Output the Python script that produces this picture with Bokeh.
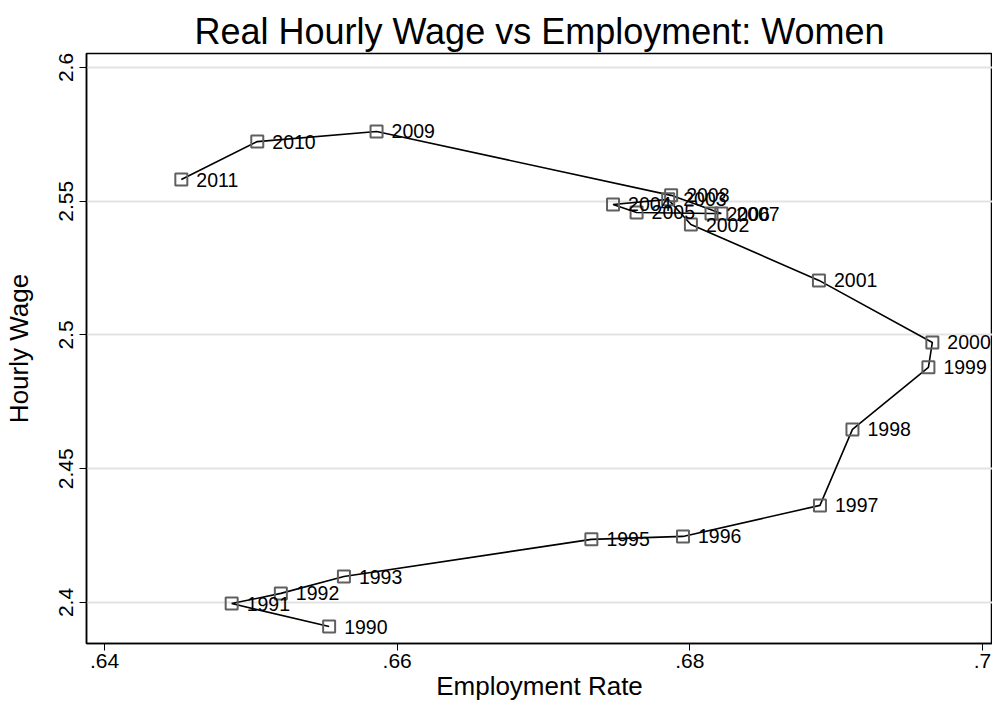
from bokeh.plotting import figure
from bokeh.models import ColumnDataSource, Range1d, FixedTicker
from bokeh.core.properties import value
from bokeh.embed import file_html
from bokeh.resources import INLINE

# ---- data ----
years = ["1990", "1991", "1992", "1993", "1995", "1996", "1997", "1998", "1999",
         "2000", "2001", "2002", "2003", "2004", "2005", "2006", "2007", "2008",
         "2009", "2010", "2011"]
employment_rate = [0.65535, 0.64869, 0.65205, 0.65636, 0.67327, 0.67953, 0.68889,
                   0.69111, 0.69630, 0.69657, 0.68882, 0.68007, 0.67852, 0.67475,
                   0.67636, 0.68148, 0.68215, 0.67872, 0.65859, 0.65044, 0.64525]
hourly_wage = [2.3910, 2.3996, 2.4034, 2.4097, 2.4236, 2.4247, 2.4363, 2.4647,
               2.4879, 2.4972, 2.5204, 2.5413, 2.5507, 2.5488, 2.5458, 2.5454,
               2.5454, 2.5522, 2.5761, 2.5723, 2.5581]

x_ticks = [0.64, 0.66, 0.68, 0.70]
x_tick_labels = [".64", ".66", ".68", ".7"]
y_ticks = [2.4, 2.45, 2.5, 2.55, 2.6]
y_tick_labels = ["2.4", "2.45", "2.5", "2.55", "2.6"]

FONT = "Liberation Sans"

src = ColumnDataSource(dict(x=employment_rate, y=hourly_wage, year=years))

p = figure(width=992, height=711, output_backend="svg", toolbar_location=None,
           x_range=Range1d(0.63877, 0.70068), y_range=Range1d(2.38467, 2.60523),
           title="Real Hourly Wage vs Employment: Women",
           min_border_left=84, min_border_right=0, min_border_top=53,
           min_border_bottom=68)

p.title.text_font = FONT
p.title.text_font_size = "36px"
p.title.text_font_style = "normal"
p.title.align = "center"
p.title.text_color = "black"
p.title.standoff = 4
p.title.offset = 0

p.outline_line_color = "black"
p.outline_line_width = 1.5
p.background_fill_color = "white"
p.border_fill_color = "white"

p.xgrid.visible = False
p.ygrid.ticker = FixedTicker(ticks=y_ticks)
p.ygrid.grid_line_color = "#e3e3e3"
p.ygrid.grid_line_width = 2

p.xaxis.ticker = FixedTicker(ticks=x_ticks)
p.xaxis.major_label_overrides = dict(zip(x_ticks, x_tick_labels))
p.yaxis.ticker = FixedTicker(ticks=y_ticks)
p.yaxis.major_label_overrides = dict(zip(y_ticks, y_tick_labels))
p.yaxis.major_label_orientation = "vertical"

for ax in (p.xaxis, p.yaxis):
    ax.axis_line_color = "black"
    ax.axis_line_width = 1.5
    ax.major_tick_line_color = "black"
    ax.major_tick_line_width = 1
    ax.major_tick_out = 7
    ax.major_tick_in = 0
    ax.minor_tick_line_color = None
    ax.major_label_text_font = FONT
    ax.major_label_text_font_size = "21px"
    ax.major_label_text_color = "black"
    ax.axis_label_text_font = FONT
    ax.axis_label_text_font_size = "26px"
    ax.axis_label_text_font_style = "normal"
    ax.axis_label_text_color = "black"

p.xaxis.major_label_standoff = 3
p.yaxis.major_label_standoff = 6
p.xaxis.axis_label_standoff = 0
p.yaxis.axis_label_standoff = 23

p.xaxis.axis_label = "Employment Rate"
p.yaxis.axis_label = "Hourly Wage"

p.line("x", "y", source=src, line_color="black", line_width=1.6)
p.scatter("x", "y", source=src, marker="square", size=12, fill_color=None,
          line_color="#5f5f5f", line_width=2)
p.text("x", "y", text="year", source=src, text_font=value(FONT),
       text_font_size="19.5px", text_color="black", text_baseline="alphabetic",
       text_align="left", x_offset=15, y_offset=0)

open("out.html", "w").write(file_html(p, INLINE))
